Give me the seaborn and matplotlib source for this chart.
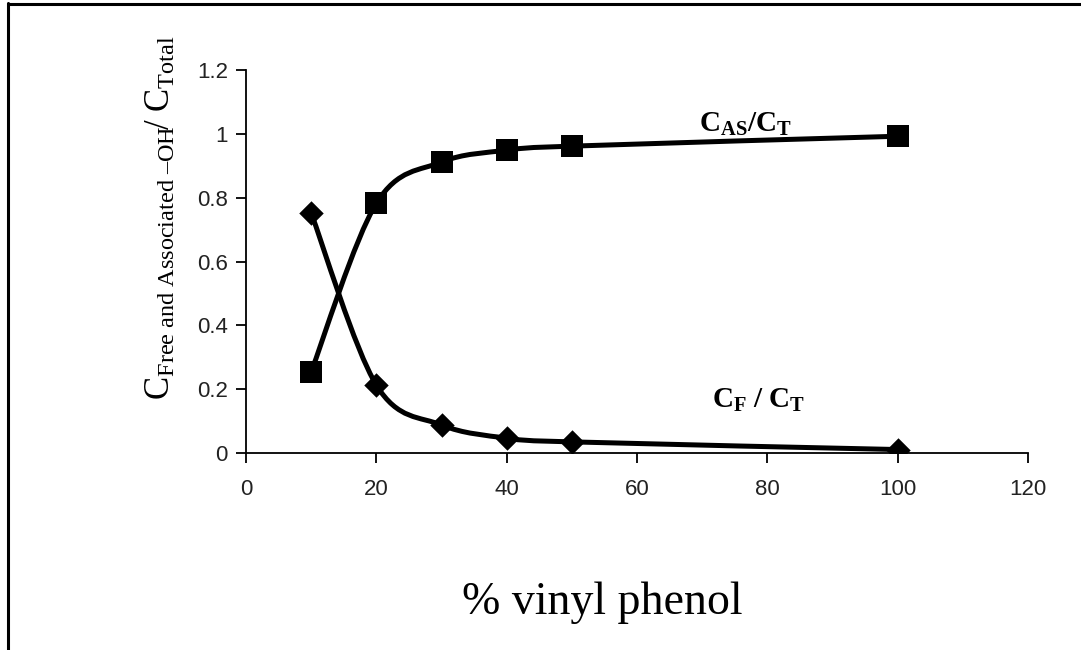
import numpy as np
import matplotlib
matplotlib.use("Agg")
import matplotlib.pyplot as plt
from matplotlib.path import Path
from matplotlib.patches import PathPatch
from matplotlib.lines import Line2D
import seaborn as sns
import pandas as pd

# Data: fraction of free and associated OH groups vs vinyl phenol content
vinyl_phenol = [10, 20, 30, 40, 50, 100]
assoc_ratio = [0.255, 0.783, 0.912, 0.949, 0.962, 0.993]
free_ratio = [0.752, 0.213, 0.088, 0.047, 0.035, 0.011]

x_ticks = [0, 20, 40, 60, 80, 100, 120]
y_ticks = [0, 0.2, 0.4, 0.6, 0.8, 1.0, 1.2]
y_tick_labels = ["0", "0.2", "0.4", "0.6", "0.8", "1", "1.2"]

sns.set_theme(style="ticks")
plt.rcParams["font.family"] = ["Liberation Sans", "DejaVu Sans"]
plt.rcParams["mathtext.fontset"] = "custom"
plt.rcParams["mathtext.rm"] = "Liberation Serif"
plt.rcParams["mathtext.it"] = "Liberation Serif:italic"
plt.rcParams["mathtext.bf"] = "Liberation Serif:bold"

fig = plt.figure(figsize=(10.81, 6.5), dpi=100)
ax = fig.add_axes([0.2276, 0.303, 0.7234, 0.589])


def smooth_path(xs, ys):
    """Cubic Bezier path through the points (Catmull-Rom style smoothing)."""
    pts = np.column_stack([xs, ys]).astype(float)
    n = len(pts)
    verts = [pts[0]]
    codes = [Path.MOVETO]
    for i in range(n - 1):
        p_prev = pts[i - 1] if i > 0 else pts[i]
        p0, p1 = pts[i], pts[i + 1]
        p_next = pts[i + 2] if i + 2 < n else pts[i + 1]
        c1 = p0 + (p1 - p_prev) / 6.0
        c2 = p1 - (p_next - p0) / 6.0
        verts += [c1, c2, p1]
        codes += [Path.CURVE4] * 3
    return Path(verts, codes)


for series in (assoc_ratio, free_ratio):
    ax.add_patch(PathPatch(smooth_path(vinyl_phenol, series), facecolor="none",
                           edgecolor="black", lw=3.6, capstyle="butt",
                           joinstyle="round", zorder=2))

df = pd.DataFrame({"x": vinyl_phenol, "assoc": assoc_ratio, "free": free_ratio})
sns.scatterplot(data=df, x="x", y="assoc", marker="s", s=250, color="black",
                edgecolor="black", linewidth=0, ax=ax, zorder=3)
sns.scatterplot(data=df, x="x", y="free", marker="D", s=155, color="black",
                edgecolor="black", linewidth=0, ax=ax, zorder=3)

ax.set_xlim(0, 120)
ax.set_ylim(0, 1.2)
ax.set_xticks(x_ticks)
ax.set_yticks(y_ticks)
ax.set_yticklabels(y_tick_labels)
ax.tick_params(axis="both", direction="out", length=7, width=1.3, color="black",
               labelsize=16, labelcolor="#222222")
ax.tick_params(axis="x", pad=12)
ax.tick_params(axis="y", pad=6)
for side in ("top", "right"):
    ax.spines[side].set_visible(False)
for side in ("left", "bottom"):
    ax.spines[side].set_linewidth(1.3)
    ax.spines[side].set_color("black")

ax.set_xlabel("% vinyl phenol", family=["Liberation Serif", "DejaVu Serif"],
              fontsize=33, color="black")
ax.xaxis.set_label_coords(0.456, -0.335)
ax.set_ylabel(r"$\mathrm{C}_{\mathrm{Free\ and\ Associated\ –OH}}\!/\ \mathrm{C}_{\mathrm{Total}}$",
              fontsize=25, color="black")
ax.yaxis.set_label_coords(-0.088, 0.615)

ax.text(69.5, 1.03, r"$\mathbf{C}_{\mathbf{AS}}\mathbf{/C}_{\mathbf{T}}$",
        fontsize=21, color="black", ha="left", va="center")
ax.text(71.5, 0.165, r"$\mathbf{C}_{\mathbf{F}}\ \mathbf{/\ C}_{\mathbf{T}}$",
        fontsize=21, color="black", ha="left", va="center")

# Frame lines along the left and top edges of the figure
fig.add_artist(Line2D([0.0077, 0.0077], [0, 0.995], transform=fig.transFigure,
                      color="black", lw=2.2))
fig.add_artist(Line2D([0.0077, 1.0], [0.994, 0.994], transform=fig.transFigure,
                      color="black", lw=2.2))

fig.savefig("out.png", dpi=100, facecolor="white")
